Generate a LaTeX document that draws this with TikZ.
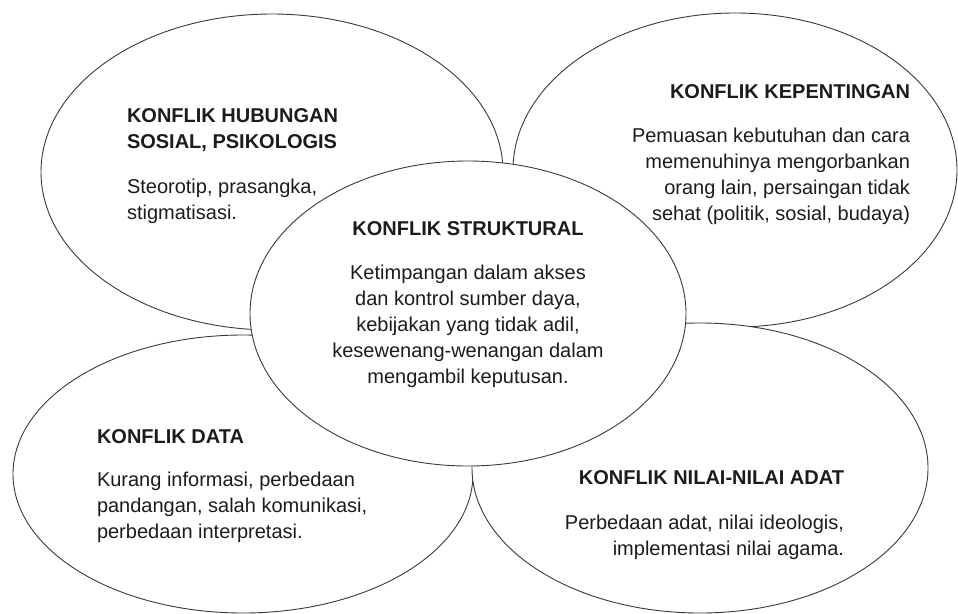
\documentclass[tikz,border=0pt]{standalone}
\usepackage{fontspec}
\setmainfont{Liberation Sans}
\usetikzlibrary{shapes.geometric}
\definecolor{ink}{HTML}{1C1C1C}
\definecolor{edge}{HTML}{3A3A3A}
\begin{document}
\begin{tikzpicture}[x=1pt,y=-1pt,
  blob/.style={ellipse, draw=edge, line width=0.9pt, fill=white, inner sep=0pt, outer sep=0pt},
  txt/.style={inner sep=0pt, outer sep=0pt, text=ink, font=\fontsize{20}{26}\selectfont},
  hd/.style={txt, font=\fontsize{20}{26}\selectfont\bfseries}]
\useasboundingbox (0,0) rectangle (958,613);
% outer ellipses
\node[blob, minimum width=462pt, minimum height=316pt] (tl) at (272,172) {};
\node[blob, minimum width=444pt, minimum height=314pt] (tr) at (735,170) {};
\node[blob, minimum width=460pt, minimum height=278pt] (bl) at (243,474) {};
\node[blob, minimum width=456pt, minimum height=290pt] (br) at (700,468) {};
% centre ellipse
\node[blob, minimum width=436pt, minimum height=305pt] (c) at (468,313.5) {};
% texts (base anchor = baseline of the last line)
\node[hd, anchor=base west, align=left] (tlh) at (127,148) {KONFLIK HUBUNGAN\\SOSIAL, PSIKOLOGIS};
\node[txt, anchor=base west, align=left] (tlb) at (127,219) {Steorotip, prasangka,\\stigmatisasi.};
\node[hd, anchor=base east, align=right] (trh) at (910,98) {KONFLIK KEPENTINGAN};
\node[txt, anchor=base east, align=right] (trb) at (910,220) {Pemuasan kebutuhan dan cara\\memenuhinya mengorbankan\\orang lain, persaingan tidak\\sehat (politik, sosial, budaya)};
\node[hd, anchor=base] (ch) at (468,235) {KONFLIK STRUKTURAL};
\node[txt, anchor=base, align=center] (cb) at (468,383) {Ketimpangan dalam akses\\dan kontrol sumber daya,\\kebijakan yang tidak adil,\\kesewenang-wenangan dalam\\mengambil keputusan.};
\node[hd, anchor=base west] (blh) at (97,443) {KONFLIK DATA};
\node[txt, anchor=base west, align=left] (blb) at (97,538) {Kurang informasi, perbedaan\\pandangan, salah komunikasi,\\perbedaan interpretasi.};
\node[hd, anchor=base east] (brh) at (844,484) {KONFLIK NILAI-NILAI ADAT};
\node[txt, anchor=base east, align=right] (brb) at (844,555) {Perbedaan adat, nilai ideologis,\\implementasi nilai agama.};
\end{tikzpicture}
\end{document}
